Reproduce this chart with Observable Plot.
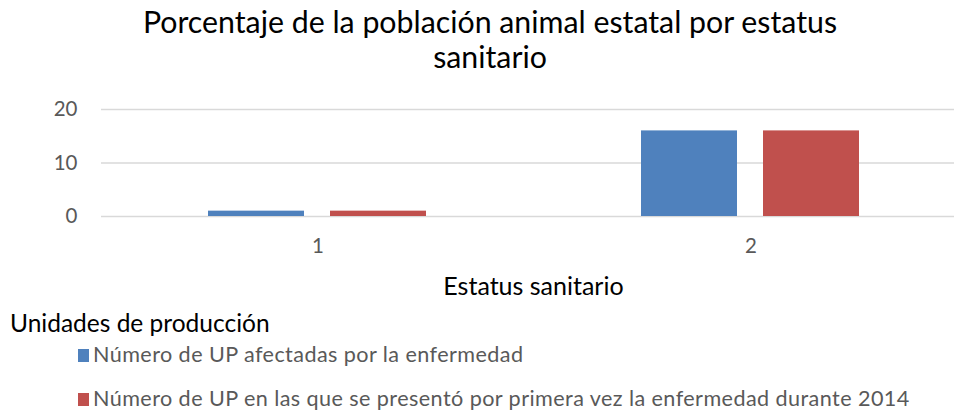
<!DOCTYPE html>
<html><head><meta charset="utf-8">
<script src="https://cdn.jsdelivr.net/npm/d3@7"></script>
<script src="https://cdn.jsdelivr.net/npm/@observablehq/plot@0.6"></script>
<style>
body{margin:0;background:#fff;font-family:Lato,"Open Sans",sans-serif;width:954px;height:410px;overflow:hidden;position:relative}
#title{position:absolute;left:26px;width:928px;top:4px;text-align:center;font-size:30.3px;line-height:35px;color:#000}
#chart{position:absolute;left:0;top:80px}
#xlabel{position:absolute;left:100px;width:867px;top:270px;text-align:center;font-size:25px;color:#000}
#legtitle{position:absolute;left:10px;top:308px;font-size:24.5px;color:#000}
.leg{position:absolute;left:78px;font-size:21.6px;line-height:24px;letter-spacing:0.42px;color:#595959;white-space:nowrap}
.sw{display:inline-block;width:11px;height:13px;margin-right:4px}
</style></head>
<body>
<div id="title">Porcentaje de la población animal estatal por estatus<br>sanitario</div>
<div id="chart"></div>
<div id="xlabel">Estatus sanitario</div>
<div id="legtitle">Unidades de producción</div>
<div id="legend"></div>
<script>
const groups = ["1", "2"];
const seriesNames = [
  "Número de UP afectadas por la enfermedad",
  "Número de UP en las que se presentó por primera vez la enfermedad durante 2014"
];
const afectadas = [1, 16];
const primeraVez = [1, 16];
const colors = ["#4F81BD", "#C0504D"];
const yTicks = [0, 10, 20];

const data = groups.flatMap((g, i) => [
  {g, s: seriesNames[0], v: afectadas[i]},
  {g, s: seriesNames[1], v: primeraVez[i]}
]);

const chart = Plot.plot({
  width: 954,
  height: 190,
  marginLeft: 100,
  marginRight: -13,
  marginTop: 29,
  marginBottom: 54,
  style: {fontFamily: "Lato, 'Open Sans', sans-serif", background: "transparent"},
  fx: {domain: groups, padding: 0, label: null, axis: null},
  x: {domain: seriesNames, paddingInner: 0.211, paddingOuter: 0.868, axis: null},
  y: {domain: [0, 20], axis: null},
  color: {domain: seriesNames, range: colors},
  marks: [
    Plot.gridY(yTicks, {stroke: "#D9D9D9", strokeOpacity: 1, strokeWidth: 1.5}),
    Plot.barY(data, {fx: "g", x: "s", y: "v", fill: "s"}),
    Plot.axisY(yTicks, {tickSize: 0, tickPadding: 24, fontSize: 20.5, fill: "#595959", label: null}),
    Plot.axisFx({anchor: "bottom", tickSize: 0, tickPadding: 22, fontSize: 20.5, fill: "#595959", label: null})
  ]
});
document.getElementById("chart").appendChild(chart);

const leg = document.getElementById("legend");
const tops = [342, 386];
seriesNames.forEach((s, i) => {
  const d = document.createElement("div");
  d.className = "leg";
  d.style.top = tops[i] + "px";
  d.innerHTML = `<span class="sw" style="background:${colors[i]}"></span>${s}`;
  leg.appendChild(d);
});
</script>
</body></html>
